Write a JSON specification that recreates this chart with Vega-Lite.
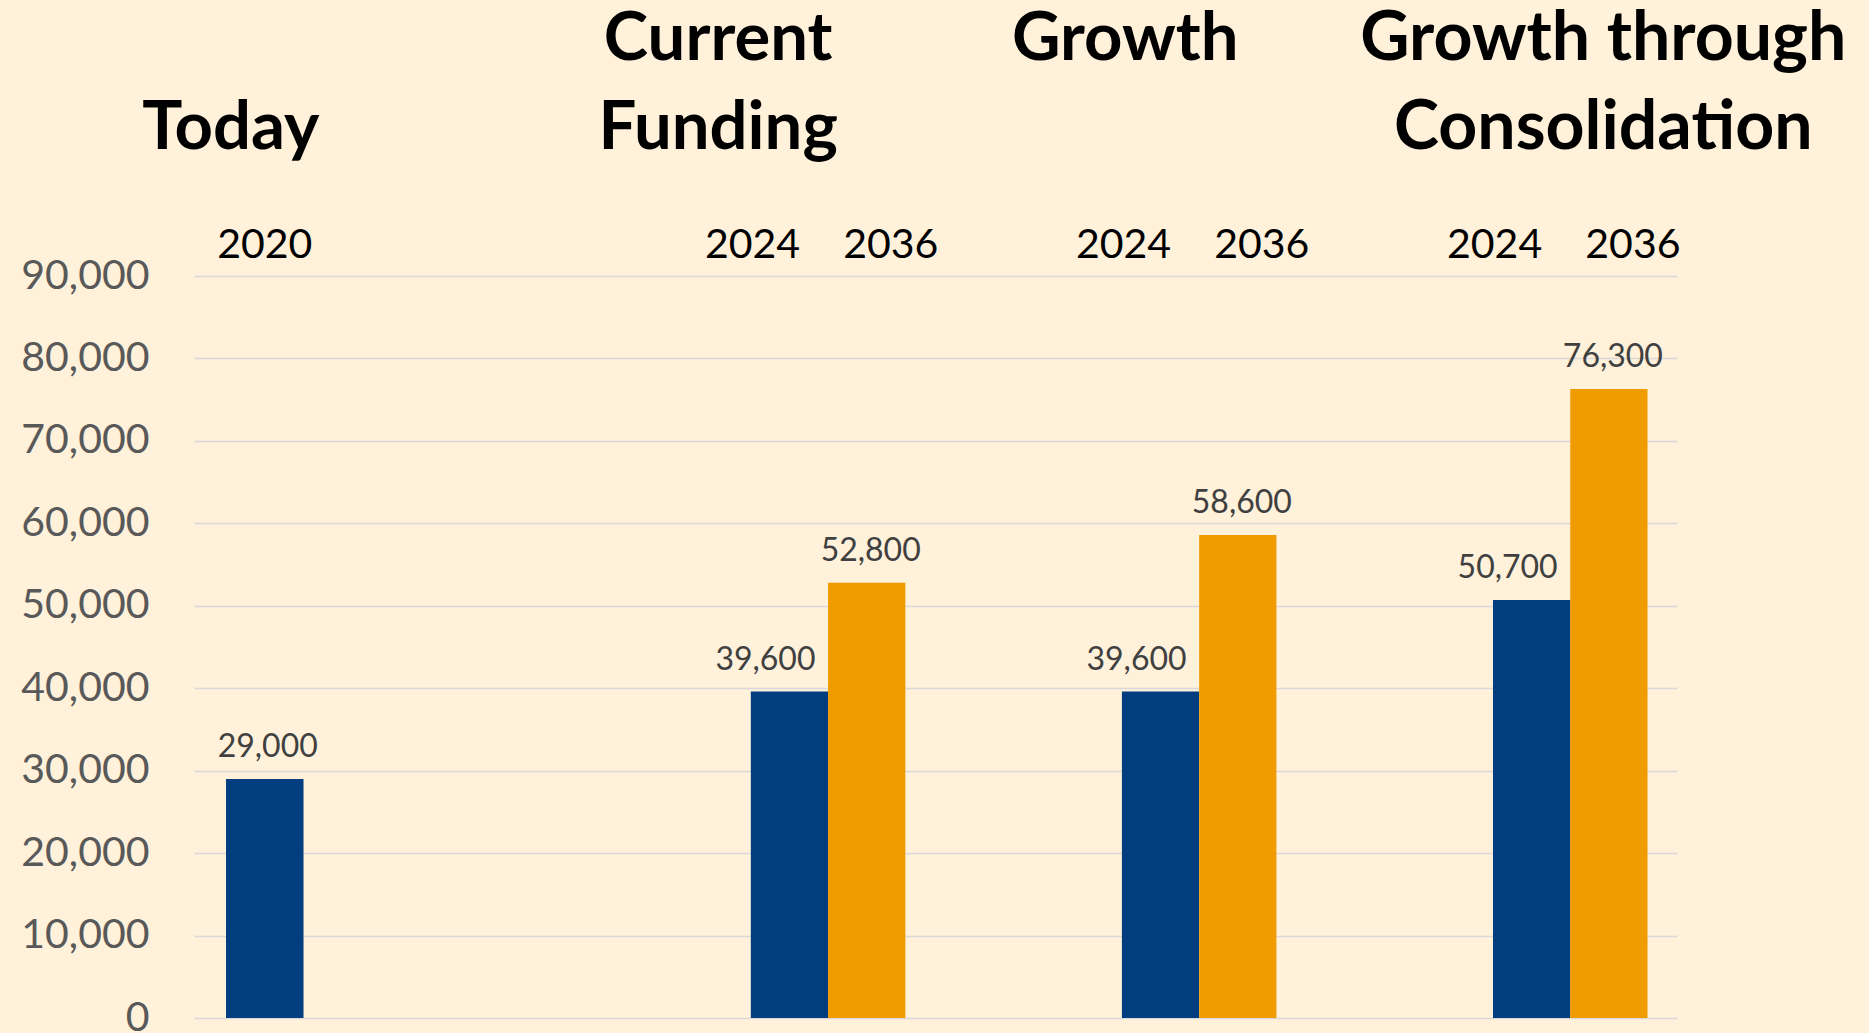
{
  "$schema": "https://vega.github.io/schema/vega-lite/v6.json",
  "background": "#fff1da",
  "autosize": {"type": "none"},
  "padding": {"left": 194, "top": 276, "right": 192, "bottom": 15},
  "width": 1483,
  "height": 742,
  "config": {"view": {"stroke": null}, "font": "Lato", "text": {"font": "Lato"}},
  "datasets": {
    "bars": [
      {"group": "Today", "heading": "Today", "year": "2020", "value": 29000},
      {"group": "Current Funding", "heading": "Current\nFunding", "year": "2024", "value": 39600},
      {"group": "Current Funding", "heading": "Current\nFunding", "year": "2036", "value": 52800},
      {"group": "Growth", "heading": "Growth", "year": "2024", "value": 39600},
      {"group": "Growth", "heading": "Growth", "year": "2036", "value": 58600},
      {"group": "Growth through Consolidation", "heading": "Growth through\nConsolidation", "year": "2024", "value": 50700},
      {"group": "Growth through Consolidation", "heading": "Growth through\nConsolidation", "year": "2036", "value": 76300}
    ]
  },
  "data": {"name": "bars"},
  "encoding": {
    "y": {"field": "value", "type": "quantitative",
          "scale": {"domain": [0, 90000], "nice": false, "zero": true},
          "axis": {"title": null, "values": [0, 10000, 20000, 30000, 40000, 50000, 60000, 70000, 80000, 90000],
                   "labelExpr": "format(datum.value, ',')", "labelFont": "Lato", "labelFontSize": 41, "labelColor": "#595959",
                   "labelPadding": 45, "ticks": false, "domain": false, "grid": true,
                   "gridColor": "#d9d9d9", "gridWidth": 1.5}}
  },
  "resolve": {"scale": {"x": "independent"}},
  "layer": [
    {
      "transform": [{"filter": "datum.group === 'Today'"}],
      "encoding": {
        "x": {"field": "group", "type": "nominal", "axis": null,
              "scale": {"type": "band", "domain": ["Today"], "paddingInner": 0.8897, "paddingOuter": 1, "align": 0.02277, "round": false}}
      },
      "layer": [
        {"mark": {"type": "bar", "color": "#023d7f"}},
        {"mark": {"type": "text", "fontSize": 32, "color": "#404040", "baseline": "alphabetic", "dy": -22, "dx": 3},
         "encoding": {"text": {"field": "value", "type": "quantitative", "format": ","}}},
        {"mark": {"type": "text", "fontSize": 41, "color": "#000000", "baseline": "alphabetic", "dy": -18},
         "encoding": {"y": {"datum": 90000}, "text": {"field": "year"}}},
        {"mark": {"type": "text", "fontSize": 67, "fontWeight": "bold", "color": "#000000", "baseline": "alphabetic", "dx": -34, "dy": -127},
         "encoding": {"y": {"datum": 90000}, "text": {"field": "heading"}}}
      ]
    },
    {
      "transform": [{"filter": "datum.group !== 'Today'"}],
      "encoding": {
        "x": {"field": "group", "type": "nominal", "axis": null,
              "scale": {"type": "band", "domain": ["Current Funding", "Growth", "Growth through Consolidation"],
                        "paddingInner": 0.5836, "paddingOuter": 0.79, "align": 0.9497, "round": false}}
      },
      "layer": [
        {"mark": {"type": "bar"},
         "encoding": {
           "xOffset": {"field": "year", "type": "nominal", "scale": {"domain": ["2024", "2036"], "paddingInner": 0, "paddingOuter": 0}},
           "color": {"field": "year", "type": "nominal", "scale": {"domain": ["2024", "2036"], "range": ["#023d7f", "#f09c00"]}, "legend": null}
         }},
        {"transform": [{"filter": "datum.year === '2024'"}],
         "mark": {"type": "text", "fontSize": 32, "color": "#404040", "baseline": "alphabetic", "dy": -22, "dx": -24},
         "encoding": {
           "xOffset": {"field": "year", "type": "nominal"},
           "text": {"field": "value", "type": "quantitative", "format": ","}}},
        {"transform": [{"filter": "datum.year === '2036'"}],
         "mark": {"type": "text", "fontSize": 32, "color": "#404040", "baseline": "alphabetic", "dy": -22, "dx": 4},
         "encoding": {
           "xOffset": {"field": "year", "type": "nominal"},
           "text": {"field": "value", "type": "quantitative", "format": ","}}},
        {"transform": [{"filter": "datum.year === '2024'"}],
         "mark": {"type": "text", "fontSize": 41, "color": "#000000", "baseline": "alphabetic", "dy": -18, "dx": -37},
         "encoding": {
           "xOffset": {"field": "year", "type": "nominal"},
           "y": {"datum": 90000},
           "text": {"field": "year"}}},
        {"transform": [{"filter": "datum.year === '2036'"}],
         "mark": {"type": "text", "fontSize": 41, "color": "#000000", "baseline": "alphabetic", "dy": -18, "dx": 24},
         "encoding": {
           "xOffset": {"field": "year", "type": "nominal"},
           "y": {"datum": 90000},
           "text": {"field": "year"}}},
        {"transform": [{"filter": "datum.year === '2024' && datum.group === 'Current Funding'"}],
         "mark": {"type": "text", "fontSize": 67, "fontWeight": "bold", "color": "#000000", "baseline": "bottom", "lineBreak": "\n", "lineHeight": 89, "dx": -110, "dy": -202},
         "encoding": {"y": {"datum": 90000}, "text": {"field": "heading"}}},
        {"transform": [{"filter": "datum.year === '2024' && datum.group === 'Growth'"}],
         "mark": {"type": "text", "fontSize": 67, "fontWeight": "bold", "color": "#000000", "baseline": "alphabetic", "dx": -74, "dy": -216},
         "encoding": {"y": {"datum": 90000}, "text": {"field": "heading"}}},
        {"transform": [{"filter": "datum.year === '2024' && datum.group === 'Growth through Consolidation'"}],
         "mark": {"type": "text", "fontSize": 68, "fontWeight": "bold", "color": "#000000", "baseline": "bottom", "lineBreak": "\n", "lineHeight": 89, "dx": 33, "dy": -202},
         "encoding": {"y": {"datum": 90000}, "text": {"field": "heading"}}}
      ]
    }
  ]
}
